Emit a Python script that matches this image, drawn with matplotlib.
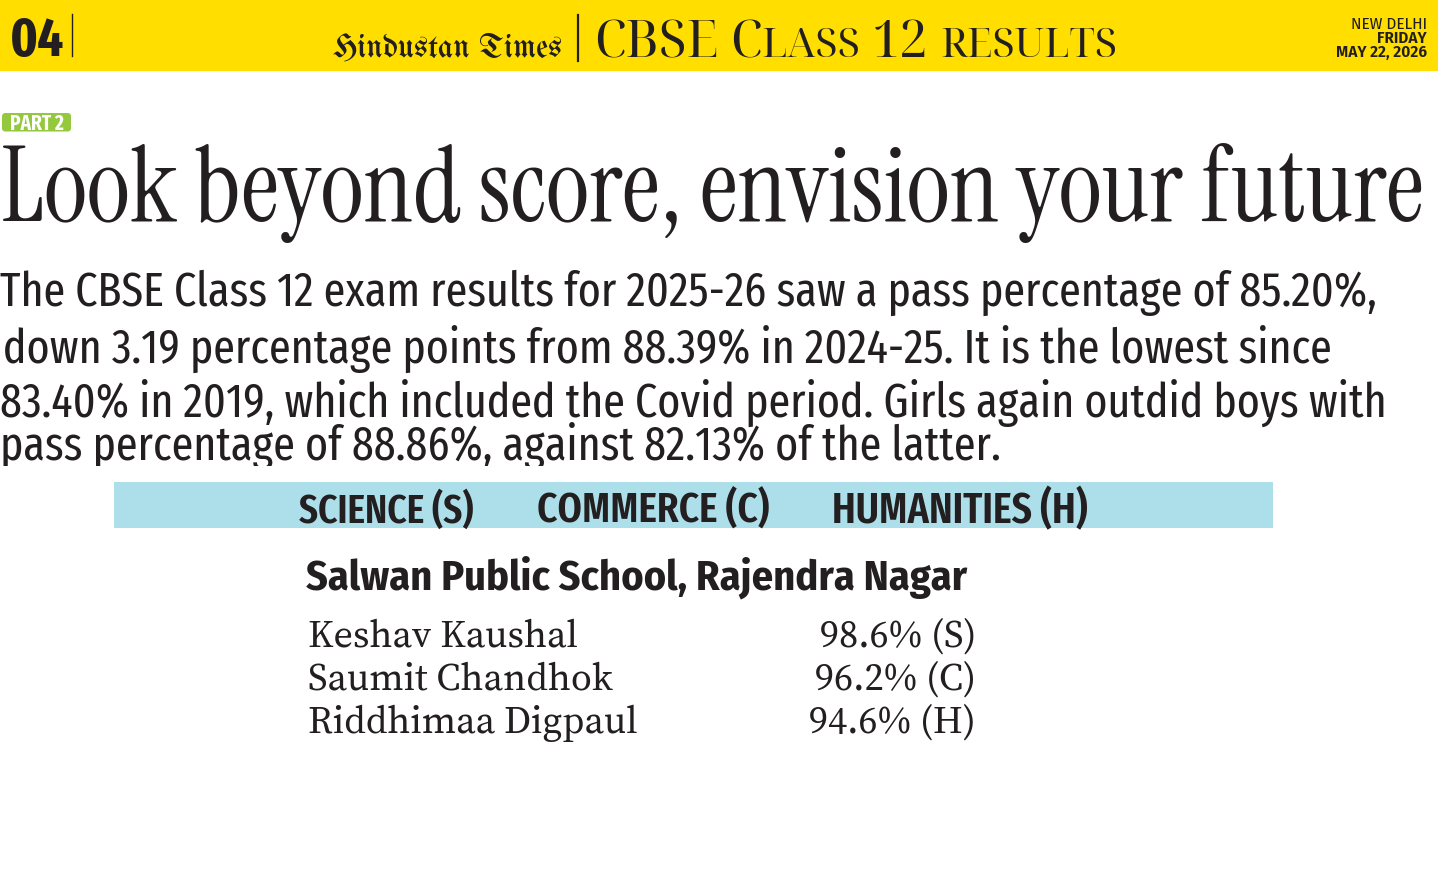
import matplotlib
matplotlib.use("Agg")
import matplotlib.pyplot as plt
from matplotlib.patches import Rectangle, FancyBboxPatch
from matplotlib.transforms import Bbox, TransformedBbox

# ---------------- data ----------------
page_number = "04"
masthead = "Hindustan Times"
section_title = [("CBSE", 1.0), (None, 1.0), ("C", 1.0), ("LASS", 0.8), (None, 1.0),
                 ("12", 1.0), (None, 1.0), ("RESULTS", 0.8)]
dateline = ["NEW DELHI", "FRIDAY", "MAY 22, 2026"]
badge = "PART 2"
headline = "Look beyond score, envision your future"
body_lines = [
    "The CBSE Class 12 exam results for 2025-26 saw a pass percentage of 85.20%,",
    "down 3.19 percentage points from 88.39% in 2024-25. It is the lowest since",
    "83.40% in 2019, which included the Covid period. Girls again outdid boys with",
    "pass percentage of 88.86%, against 82.13% of the latter.",
]
streams = ["SCIENCE (S)", "COMMERCE (C)", "HUMANITIES (H)"]
school = "Salwan Public School, Rajendra Nagar"
toppers = ["Keshav Kaushal", "Saumit Chandhok", "Riddhimaa Digpaul"]
scores = [98.6, 96.2, 94.6]
stream_codes = ["S", "C", "H"]

# ---------------- style ----------------
INK = "#231F20"
YELLOW = "#FFDE00"
BLUE = "#ADDFEA"
GREEN = "#94C83D"
SANS_XC = ["Fira Sans Extra Condensed", "DejaVu Sans"]
SANS_C = ["Fira Sans Condensed", "DejaVu Sans"]
SERIF_D = ["Instrument Serif", "DejaVu Serif"]
SERIF_H = ["Noto Serif Display", "DejaVu Serif"]
SERIF_T = ["Source Serif 4", "DejaVu Serif"]
BLACK = ["UnifrakturMaguntia", "UnifrakturCook", "DejaVu Serif"]

W, H = 1446, 887
fig = plt.figure(figsize=(W / 100, H / 100), dpi=100)
ax = fig.add_axes([0, 0, 1, 1])
ax.set_xlim(0, W)
ax.set_ylim(H, 0)
ax.axis("off")
R = fig.canvas.get_renderer()


def width(t):
    return t.get_window_extent(R).width


def fit(x, y, s, fam, target_w, ha="left", **kw):
    t = ax.text(x, y, s, family=fam, fontsize=40, ha=ha, va="baseline", color=kw.pop("color", INK), **kw)
    t.set_fontsize(40 * target_w / width(t))
    return t


def run(x, y, pieces, fam, target_w, **kw):
    def layout(size):
        arts, xpos = [], x
        for s, f in pieces:
            if s is None:
                a = ax.text(0, y, "a a", family=fam, fontsize=size * f, **kw)
                b = ax.text(0, y, "aa", family=fam, fontsize=size * f, **kw)
                xpos += width(a) - width(b)
                a.remove(); b.remove()
                continue
            t = ax.text(xpos, y, s, family=fam, fontsize=size * f, va="baseline", color=INK, **kw)
            xpos += width(t)
            arts.append(t)
        return arts, xpos - x
    arts, w = layout(40)
    for a in arts:
        a.remove()
    layout(40 * target_w / w)


# ---------------- header band ----------------
ax.add_patch(Rectangle((0, 0), 1438, 72, facecolor=YELLOW, edgecolor="none"))
ax.text(10, 56, page_number, family=SANS_XC, fontweight="bold", fontsize=39.5, color=INK, va="baseline")
ax.plot([72, 72], [15, 57], color=INK, lw=1.0)
fit(333, 57, masthead, BLACK, 229)
ax.plot([578, 578], [16, 62], color=INK, lw=1.6)
run(594, 57, section_title, SERIF_H, 523)
date_weights = ["normal", "semibold", "semibold"]
for i, (s, wgt) in enumerate(zip(dateline, date_weights)):
    ax.text(1427, 29 + 14 * i, s, family=SANS_C, fontweight=wgt, fontsize=12.3,
            ha="right", va="baseline", color=INK)

# ---------------- badge + headline ----------------
ax.add_patch(FancyBboxPatch((2, 114), 69, 18.5, boxstyle="round,pad=0,rounding_size=3.5",
                            facecolor=GREEN, edgecolor="none"))
ax.text(37, 130, badge, family=SANS_XC, fontweight="bold", fontsize=15, color="white",
        ha="center", va="baseline")
fit(1, 221, headline, SERIF_D, 1421)

# ---------------- body text ----------------
body_y = [306, 363, 417, 460]
body_x = [0, 3, 0, 0]
t0 = fit(body_x[0], body_y[0], body_lines[0], SANS_XC, 1377)
bsize = t0.get_fontsize()
clip = TransformedBbox(Bbox([[0, 0], [W, 467]]), ax.transData)
for i in range(1, len(body_lines)):
    t = ax.text(body_x[i], body_y[i], body_lines[i], family=SANS_XC, fontsize=bsize,
                va="baseline", color=INK)
    if i == len(body_lines) - 1:
        t.set_clip_on(True)
        t.set_clip_box(clip)

# ---------------- stream band ----------------
ax.add_patch(Rectangle((114, 483), 1159, 46, facecolor=BLUE, edgecolor="none"))
stream_x = [299, 537, 832]
stream_w = [175, 232, 256]
for sx, sw, s in zip(stream_x, stream_w, streams):
    fit(sx, 523, s, SANS_XC, sw, fontweight="semibold")

# ---------------- toppers ----------------
fit(306, 589, school, SANS_C, 662, fontweight="bold")
name_y = [647, 690, 733]
tn = fit(308, name_y[0], toppers[0], SERIF_T, 270)
nsize = tn.get_fontsize()
for i, (n, v, c) in enumerate(zip(toppers, scores, stream_codes)):
    if i > 0:
        ax.text(308, name_y[i], n, family=SERIF_T, fontsize=nsize, va="baseline", color=INK)
    ax.text(976, name_y[i], f"{v:.1f}% ({c})", family=SERIF_T, fontsize=nsize,
            ha="right", va="baseline", color=INK)

fig.savefig("out.png", dpi=100)
